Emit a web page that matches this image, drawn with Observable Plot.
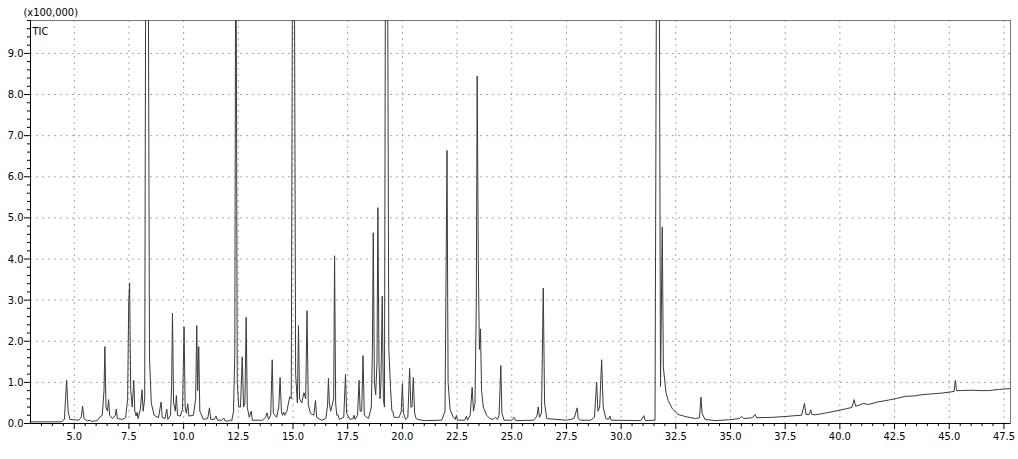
<!DOCTYPE html>
<html>
<head>
<meta charset="utf-8">
<script src="https://cdn.jsdelivr.net/npm/d3@7"></script>
<script src="https://cdn.jsdelivr.net/npm/@observablehq/plot@0.6"></script>
<style>
  html, body { margin: 0; padding: 0; background: #fff; }
  #chart { width: 1018px; height: 459px; }
</style>
</head>
<body>
<div id="chart"></div>
<script>
// Retention time (min) and TIC intensity (x100,000)
const rt = [
  3.00, 4.40, 4.55, 4.65, 4.72, 4.80, 5.20, 5.32, 5.38, 5.45, 5.60, 5.72, 5.80, 6.05, 6.18, 6.28, 6.36, 6.40, 6.45, 6.52,
  6.57, 6.62, 6.75, 6.88, 6.92, 6.97, 7.20, 7.35, 7.44, 7.49, 7.53, 7.58, 7.65, 7.72, 7.77, 7.83, 7.87, 7.92, 8.02, 8.10,
  8.15, 8.22, 8.27, 8.38, 8.44, 8.52, 8.65, 8.85, 8.97, 9.02, 9.15, 9.23, 9.28, 9.40, 9.45, 9.49, 9.54, 9.62, 9.67, 9.72,
  9.85, 9.95, 10.02, 10.07, 10.12, 10.19, 10.24, 10.45, 10.55, 10.60, 10.64, 10.69, 10.74, 10.90, 11.10, 11.18, 11.24, 11.40, 11.48, 11.55,
  11.75, 11.84, 11.90, 12.05, 12.13, 12.20, 12.28, 12.34, 12.38, 12.41, 12.45, 12.52, 12.60, 12.68, 12.74, 12.80, 12.86, 12.91, 13.00, 13.09,
  13.14, 13.60, 13.75, 13.81, 13.88, 13.98, 14.05, 14.10, 14.25, 14.35, 14.41, 14.47, 14.52, 14.57, 14.62, 14.72, 14.85, 14.92, 14.98, 15.06,
  15.12, 15.20, 15.25, 15.30, 15.40, 15.50, 15.58, 15.64, 15.70, 15.80, 15.95, 16.03, 16.08, 16.30, 16.50, 16.58, 16.62, 16.66, 16.72, 16.86,
  16.90, 16.95, 17.00, 17.05, 17.12, 17.32, 17.40, 17.45, 17.60, 17.75, 17.79, 17.84, 17.95, 18.02, 18.07, 18.14, 18.20, 18.26, 18.45, 18.58,
  18.63, 18.67, 18.72, 18.78, 18.84, 18.88, 18.93, 18.98, 19.02, 19.08, 19.13, 19.18, 19.23, 19.32, 19.38, 19.46, 19.52, 19.56, 19.62, 19.85,
  19.95, 20.00, 20.05, 20.15, 20.25, 20.33, 20.39, 20.44, 20.50, 20.56, 20.63, 20.70, 21.00, 21.80, 21.95, 22.04, 22.09, 22.18, 22.30, 22.42,
  22.47, 22.52, 22.85, 22.93, 22.98, 23.10, 23.19, 23.25, 23.32, 23.38, 23.42, 23.47, 23.52, 23.57, 23.62, 23.70, 23.85, 24.00, 24.15, 24.25,
  24.35, 24.42, 24.50, 24.55, 24.65, 25.00, 25.11, 25.18, 26.00, 26.15, 26.21, 26.27, 26.36, 26.44, 26.50, 26.60, 27.50, 27.85, 27.99, 28.04,
  28.15, 28.60, 28.78, 28.88, 28.94, 29.02, 29.11, 29.18, 29.30, 29.42, 29.49, 29.55, 30.90, 31.04, 31.10, 31.55, 31.62, 31.74, 31.80, 31.88,
  31.93, 32.05, 32.15, 32.35, 32.60, 33.00, 33.40, 33.58, 33.65, 33.70, 33.83, 34.29, 34.90, 35.40, 35.52, 35.60, 36.00, 36.12, 36.20, 36.89,
  37.50, 37.95, 38.25, 38.38, 38.45, 38.60, 38.67, 38.72, 38.87, 39.30, 39.78, 40.30, 40.55, 40.65, 40.72, 40.90, 41.08, 41.30, 41.70, 42.23,
  42.60, 42.99, 43.40, 43.75, 44.20, 44.66, 45.10, 45.22, 45.28, 45.33, 45.50, 46.04, 46.40, 46.80, 47.30, 47.80
];
const tic = [
  0.04, 0.04, 0.10, 1.05, 0.30, 0.10, 0.08, 0.15, 0.42, 0.12, 0.06, 0.08, 0.05, 0.07, 0.16, 0.20, 0.80, 1.87, 0.40, 0.30,
  0.58, 0.20, 0.12, 0.20, 0.35, 0.12, 0.10, 0.14, 0.60, 2.95, 3.42, 0.80, 0.40, 1.05, 0.30, 0.18, 0.27, 0.12, 0.35, 0.82,
  0.30, 0.60, 12.0, 12.0, 1.60, 0.50, 0.20, 0.14, 0.52, 0.15, 0.12, 0.35, 0.10, 0.20, 0.90, 2.68, 0.50, 0.30, 0.68, 0.20,
  0.18, 0.35, 2.35, 0.40, 0.25, 0.48, 0.18, 0.20, 0.60, 2.38, 0.80, 1.87, 0.30, 0.10, 0.12, 0.38, 0.10, 0.10, 0.18, 0.08,
  0.08, 0.13, 0.06, 0.06, 0.09, 0.06, 0.30, 1.70, 12.0, 9.25, 1.00, 0.40, 0.40, 1.62, 0.40, 0.50, 2.58, 0.40, 0.15, 0.30,
  0.08, 0.08, 0.15, 0.26, 0.10, 0.20, 1.55, 0.25, 0.15, 0.40, 1.12, 0.30, 0.20, 0.28, 0.20, 0.30, 0.65, 0.60, 12.0, 12.0,
  1.20, 0.50, 2.38, 0.60, 0.50, 0.75, 0.60, 2.74, 0.45, 0.25, 0.20, 0.56, 0.15, 0.08, 0.12, 0.45, 1.10, 0.50, 0.30, 0.60,
  4.08, 0.50, 0.20, 0.22, 0.10, 0.15, 1.20, 0.25, 0.10, 0.12, 0.20, 0.10, 0.20, 1.05, 0.30, 0.30, 1.65, 0.20, 0.12, 0.40,
  1.80, 4.64, 1.00, 0.70, 1.50, 5.25, 1.50, 0.60, 1.00, 3.10, 0.60, 0.40, 12.0, 12.0, 1.80, 0.85, 0.30, 0.30, 0.15, 0.15,
  0.30, 0.97, 0.25, 0.10, 0.15, 1.34, 0.40, 0.40, 1.12, 0.25, 0.12, 0.10, 0.07, 0.08, 0.30, 6.64, 1.00, 0.35, 0.18, 0.10,
  0.20, 0.08, 0.08, 0.18, 0.08, 0.20, 0.88, 0.30, 0.50, 3.00, 8.45, 4.00, 1.80, 2.30, 0.80, 0.40, 0.20, 0.12, 0.10, 0.15,
  0.10, 0.20, 1.41, 0.25, 0.08, 0.08, 0.15, 0.07, 0.08, 0.18, 0.40, 0.15, 0.25, 3.29, 0.50, 0.12, 0.08, 0.12, 0.38, 0.12,
  0.08, 0.08, 0.15, 1.00, 0.30, 0.40, 1.55, 0.40, 0.12, 0.10, 0.18, 0.08, 0.07, 0.19, 0.07, 0.08, 12.0, 12.0, 0.90, 4.78,
  1.37, 0.75, 0.56, 0.35, 0.22, 0.16, 0.12, 0.14, 0.64, 0.25, 0.10, 0.07, 0.09, 0.12, 0.17, 0.12, 0.14, 0.22, 0.14, 0.15,
  0.17, 0.19, 0.20, 0.49, 0.22, 0.22, 0.33, 0.22, 0.21, 0.25, 0.30, 0.36, 0.39, 0.58, 0.42, 0.45, 0.49, 0.46, 0.52, 0.57,
  0.61, 0.66, 0.67, 0.70, 0.72, 0.74, 0.77, 0.78, 1.05, 0.80, 0.80, 0.81, 0.80, 0.80, 0.83, 0.85
];

// Axis ticks
const xMajorTicks = [5.0, 7.5, 10.0, 12.5, 15.0, 17.5, 20.0, 22.5, 25.0, 27.5, 30.0, 32.5, 35.0, 37.5, 40.0, 42.5, 45.0, 47.5];
const xMinorTicks = d3.range(3.5, 47.8, 0.5).filter(v => Math.abs((v / 2.5) - Math.round(v / 2.5)) > 1e-6);
const yMajorTicks = [0, 1, 2, 3, 4, 5, 6, 7, 8, 9];
const yMinorTicks = d3.range(0.2, 9.8, 0.2).filter(v => Math.abs(v - Math.round(v)) > 1e-6);
const unitLabel = "(x100,000)";
const traceLabel = "TIC";

const data = rt.map((t, i) => ({t, v: tic[i]}));
const font = "'Liberation Sans Narrow', 'Arial Narrow', 'DejaVu Sans Condensed', sans-serif";

const chart = Plot.plot({
  width: 1018,
  height: 459,
  marginLeft: 30,
  marginRight: 8,
  marginTop: 20,
  marginBottom: 36,
  style: {fontFamily: font, fontSize: "11px", color: "#000", background: "#fff"},
  x: {domain: [3.0, 47.8]},
  y: {domain: [0, 9.8]},
  marks: [
    Plot.gridX(xMajorTicks, {stroke: "#aaa", strokeOpacity: 1, strokeDasharray: "2,4"}),
    Plot.gridY(yMajorTicks.slice(1), {stroke: "#aaa", strokeOpacity: 1, strokeDasharray: "2,4"}),
    Plot.frame({stroke: "#777"}),
    Plot.line(data, {x: "t", y: "v", stroke: "#3a3a3a", strokeWidth: 1, clip: true, curve: "linear"}),
    Plot.ruleY([0], {stroke: "#000", strokeWidth: 1}),
    Plot.ruleX([3.0], {stroke: "#000", strokeWidth: 1}),
    Plot.axisX({ticks: xMajorTicks, tickFormat: d3.format(".1f"), tickSize: 6, tickPadding: 3, label: null, fontSize: 11}),
    Plot.axisX({ticks: xMinorTicks, tickFormat: () => "", tickSize: 3, label: null}),
    Plot.axisY({ticks: yMajorTicks, tickFormat: d3.format(".1f"), tickSize: 6, tickPadding: 1, label: null, fontSize: 11}),
    Plot.axisY({ticks: yMinorTicks, tickFormat: () => "", tickSize: 3, label: null}),
    Plot.text([unitLabel], {frameAnchor: "top-left", text: d => d, dx: -7, dy: -12, textAnchor: "start", fontSize: 11, fill: "#000"}),
    Plot.text([traceLabel], {frameAnchor: "top-left", text: d => d, dx: 2, dy: 7, textAnchor: "start", fontSize: 11, fill: "#000"})
  ]
});
document.getElementById("chart").appendChild(chart);
</script>
</body>
</html>
